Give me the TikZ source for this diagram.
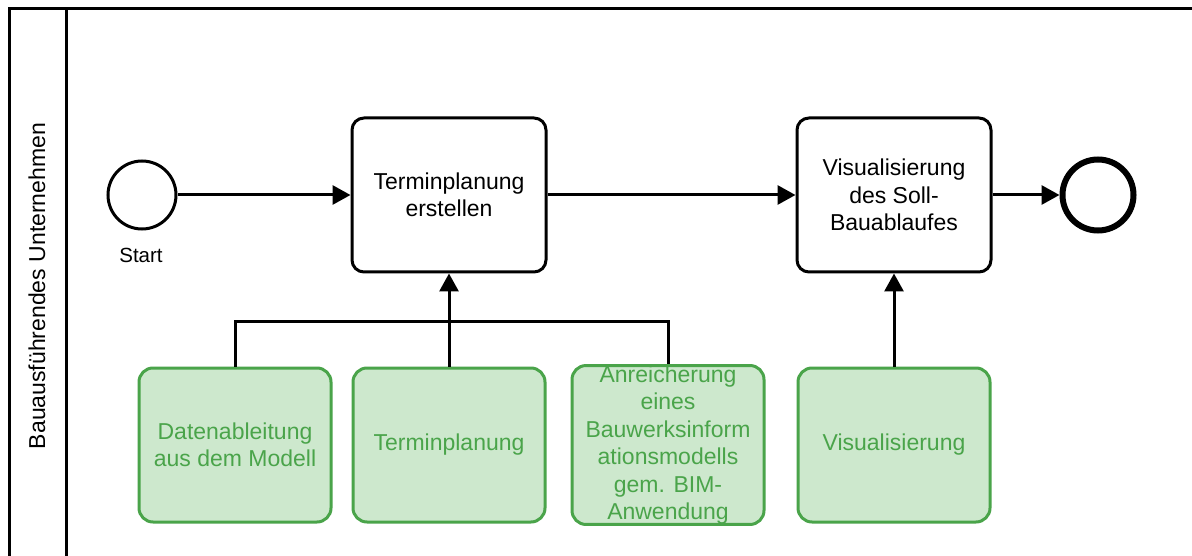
\documentclass[tikz,border=0pt]{standalone}
\usepackage{fontspec}
\setmainfont{Liberation Sans}
\usetikzlibrary{arrows.meta}
\definecolor{gfill}{RGB}{205,232,205}
\definecolor{gline}{RGB}{74,164,74}
\begin{document}
\begin{tikzpicture}[x=1pt,y=-1pt,
  txt/.style={font=\fontsize{23}{27.5}\selectfont, align=center},
  task/.style={txt, draw=black, line width=3pt, rounded corners=12pt, minimum width=194pt, minimum height=154pt, inner sep=0pt, fill=white},
  act/.style={txt, draw=gline, fill=gfill, text=gline, line width=3pt, rounded corners=14pt, minimum width=192pt, minimum height=154pt, inner sep=0pt},
  flow/.style={line width=3pt, -{Triangle[length=18pt,width=19pt]}},
  link/.style={line width=3pt}]
\useasboundingbox (0,0) rectangle (1192,556);
\clip (0,0) rectangle (1192,556);
\fill[white] (0,0) rectangle (1192,556);
% pool
\draw[line width=3pt] (9,9) rectangle (1210,600);
\draw[line width=3pt] (66,9) -- (66,600);
\node[txt, rotate=90] (lane) at (37,286) {Bauausführendes Unternehmen};
% events
\node[circle, draw=black, line width=3pt, minimum size=68pt, inner sep=0pt] (start) at (142,195) {};
\node[font=\fontsize{20.5}{24}\selectfont] (startlbl) at (141,255) {Start};
\node[circle, draw=black, line width=6pt, minimum size=71pt, inner sep=0pt] (end) at (1098,195) {};
% tasks
\node[task] (t1) at (449,195) {Terminplanung\\erstellen};
\node[task] (t2) at (894,195) {Visualisierung\\des Soll-\\Bauablaufes};
% activities
\node[act] (a1) at (235,445) {Datenableitung\\aus dem Modell};
\node[act] (a2) at (449,445) {Terminplanung};
\node[act] (a3) at (668,445) {Anreicherung\\eines\\Bauwerksinform\\ationsmodells\\gem. BIM-\\Anwendung};
\node[act] (a4) at (894,445) {Visualisierung};
% flows
\draw[flow] (start.east) -- (t1.west);
\draw[flow] (t1.east) -- (t2.west);
\draw[flow] (t2.east) -- (end.west);
\coordinate (j1) at (235,321);
\coordinate (j2) at (668,321);
\draw[link] (a1.north) -- (j1) -- (j2) -- (a3.north);
\draw[flow] (a2.north) -- (t1.south);
\draw[flow] (a4.north) -- (t2.south);
\end{tikzpicture}
\end{document}
